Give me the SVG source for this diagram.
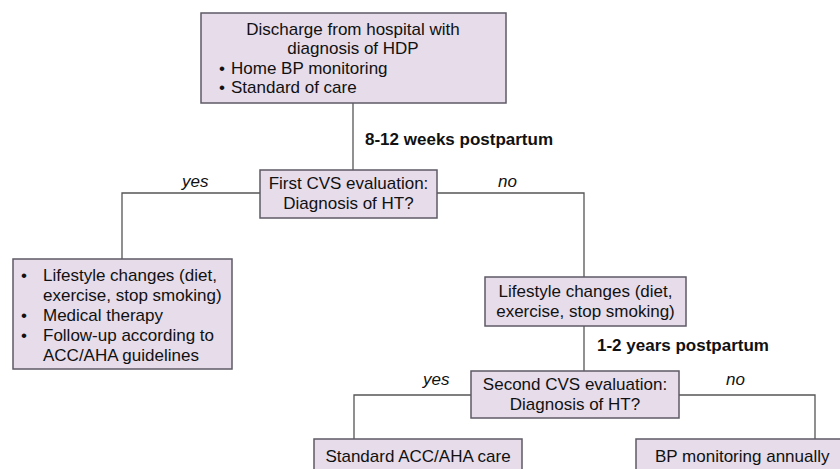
<svg xmlns="http://www.w3.org/2000/svg" width="840" height="469" viewBox="0 0 840 469">
<style>
.box{fill:#e6dcea;stroke:#5f5a66;stroke-width:1.5}
.t{font-family:"Liberation Sans",Arial,sans-serif;font-size:17px;fill:#111}
.c{text-anchor:middle}
.b{font-weight:bold}
.i{font-style:italic}
.ln{fill:none;stroke:#555;stroke-width:1.3}
</style>
<rect width="840" height="469" fill="#fff"/>
<g id="connectors">
<path class="ln" d="M353,103 V170"/>
<path class="ln" d="M260,193 H122 V259"/>
<path class="ln" d="M437,193 H584 V277"/>
<path class="ln" d="M584,326 V371"/>
<path class="ln" d="M471,395 H354 V439"/>
<path class="ln" d="M679,395 H815 V439"/>
<text class="t b" x="365" y="145">8-12 weeks postpartum</text>
<text class="t i" x="182" y="187">yes</text>
<text class="t i" x="498" y="187">no</text>
<text class="t b" x="597" y="351">1-2 years postpartum</text>
<text class="t i" x="423" y="385">yes</text>
<text class="t i" x="726" y="385">no</text>
</g>
<g id="discharge">
<rect class="box" x="201" y="13" width="305" height="90"/>
<text class="t c" x="353" y="35">Discharge from hospital with</text>
<text class="t c" x="353" y="54">diagnosis of HDP</text>
<text class="t" x="219" y="74">•</text>
<text class="t" x="231" y="74">Home BP monitoring</text>
<text class="t" x="219" y="93">•</text>
<text class="t" x="231" y="93">Standard of care</text>
</g>
<g id="first-eval">
<rect class="box" x="260" y="170" width="177" height="48"/>
<text class="t c" x="348.5" y="189">First CVS evaluation:</text>
<text class="t c" x="348.5" y="209">Diagnosis of HT?</text>
</g>
<g id="treatment">
<rect class="box" x="13" y="259" width="219" height="110"/>
<text class="t" x="21" y="281">•</text>
<text class="t" x="43" y="281">Lifestyle changes (diet,</text>
<text class="t" x="43" y="301">exercise, stop smoking)</text>
<text class="t" x="21" y="321">•</text>
<text class="t" x="43" y="321">Medical therapy</text>
<text class="t" x="21" y="341">•</text>
<text class="t" x="43" y="341">Follow-up according to</text>
<text class="t" x="43" y="361">ACC/AHA guidelines</text>
</g>
<g id="lifestyle">
<rect class="box" x="485" y="277" width="201" height="49"/>
<text class="t c" x="585.5" y="297">Lifestyle changes (diet,</text>
<text class="t c" x="585.5" y="317">exercise, stop smoking)</text>
</g>
<g id="second-eval">
<rect class="box" x="471" y="371" width="208" height="47"/>
<text class="t c" x="575" y="390">Second CVS evaluation:</text>
<text class="t c" x="575" y="410">Diagnosis of HT?</text>
</g>
<g id="standard-care">
<rect class="box" x="314" y="439" width="208" height="40"/>
<text class="t c" x="418" y="462">Standard ACC/AHA care</text>
</g>
<g id="bp-annual">
<rect class="box" x="636" y="439" width="215" height="40"/>
<text class="t" x="655" y="462">BP monitoring annually</text>
</g>
</svg>
